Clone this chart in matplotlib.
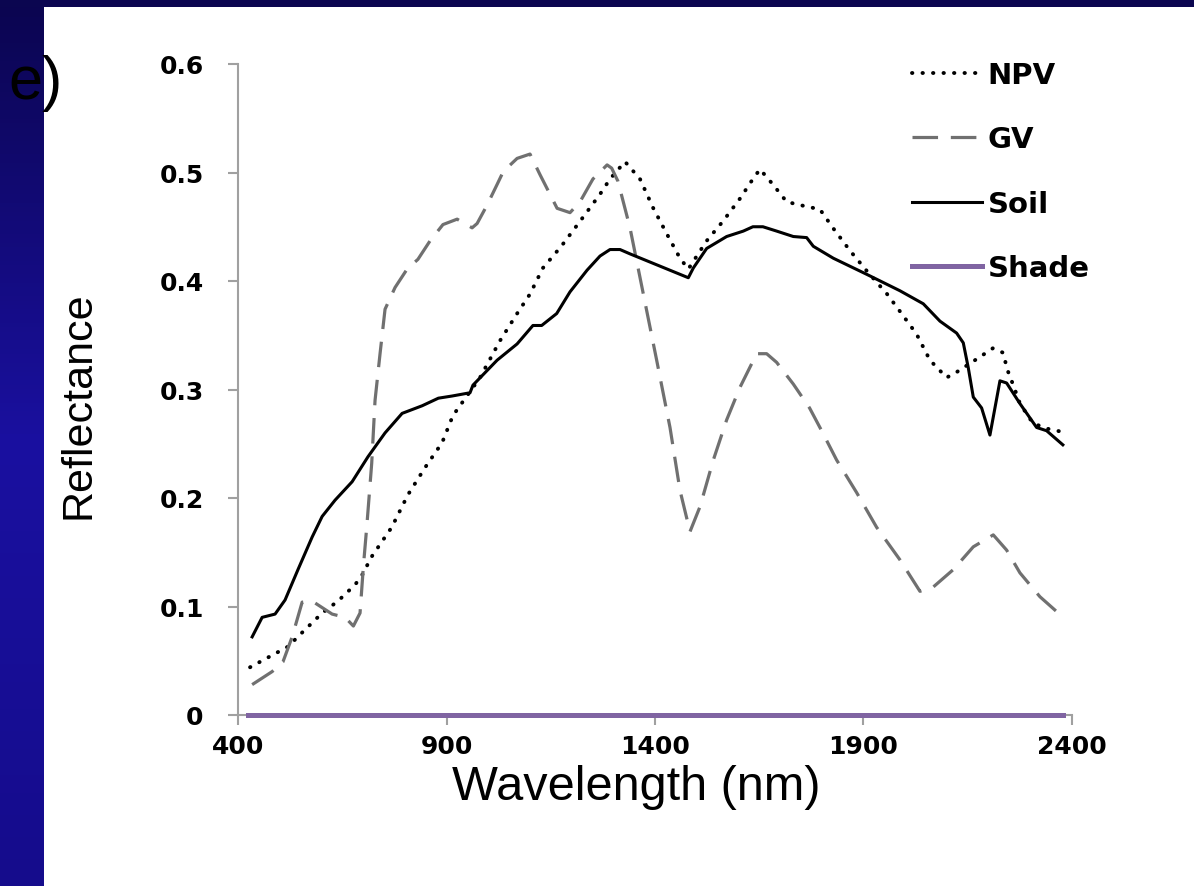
import matplotlib.pyplot as plt
import numpy as np
from matplotlib.colors import LinearSegmentedColormap

# spectra (wavelength in nm, reflectance)
npv_wl = [428, 471, 519, 553, 601, 639, 680, 697, 720, 768, 807, 848, 889, 915, 980,
          1028, 1069, 1100, 1131, 1175, 1220, 1268, 1292, 1328, 1364, 1396, 1429, 1460,
          1480, 1524, 1563, 1604, 1635, 1652, 1683, 1716, 1748, 1796, 1827, 1868, 1909,
          1957, 1988, 2028, 2060, 2100, 2124, 2172, 2211, 2235, 2247, 2259, 2276, 2307,
          2340, 2377]
npv_refl = [0.044, 0.053, 0.063, 0.076, 0.094, 0.105, 0.120, 0.129, 0.146, 0.173, 0.203,
            0.228, 0.251, 0.276, 0.311, 0.345, 0.370, 0.388, 0.412, 0.432, 0.455, 0.480,
            0.494, 0.510, 0.494, 0.467, 0.443, 0.421, 0.411, 0.437, 0.455, 0.476, 0.494,
            0.503, 0.489, 0.473, 0.470, 0.466, 0.449, 0.428, 0.409, 0.388, 0.372, 0.351,
            0.327, 0.311, 0.316, 0.328, 0.338, 0.334, 0.317, 0.305, 0.287, 0.269, 0.264,
            0.261]

gv_wl = [433, 481, 507, 529, 553, 577, 625, 656, 676, 692, 700, 708, 720, 728, 740, 752,
         776, 805, 831, 860, 891, 925, 961, 973, 997, 1021, 1036, 1069, 1100, 1124, 1165,
         1196, 1220, 1251, 1285, 1296, 1311, 1340, 1372, 1404, 1436, 1460, 1484, 1508,
         1540, 1572, 1604, 1644, 1668, 1692, 1732, 1771, 1800, 1836, 1884, 1932, 1988,
         2036, 2068, 2116, 2164, 2212, 2244, 2276, 2324, 2368]
gv_refl = [0.028, 0.040, 0.049, 0.072, 0.104, 0.105, 0.093, 0.090, 0.082, 0.094, 0.137,
           0.173, 0.232, 0.290, 0.333, 0.374, 0.394, 0.411, 0.420, 0.437, 0.452, 0.457,
           0.449, 0.453, 0.470, 0.489, 0.501, 0.513, 0.517, 0.498, 0.467, 0.463, 0.473,
           0.494, 0.507, 0.504, 0.492, 0.449, 0.388, 0.327, 0.265, 0.207, 0.169, 0.192,
           0.235, 0.272, 0.302, 0.333, 0.333, 0.325, 0.305, 0.283, 0.262, 0.235, 0.205,
           0.173, 0.143, 0.114, 0.118, 0.134, 0.155, 0.166, 0.152, 0.131, 0.109, 0.094]

soil_wl = [433, 457, 488, 512, 543, 577, 601, 632, 673, 711, 752, 793, 841, 880, 913,
           956, 963, 1021, 1069, 1107, 1128, 1164, 1196, 1237, 1268, 1292, 1316, 1340,
           1480, 1492, 1524, 1572, 1612, 1635, 1659, 1692, 1732, 1764, 1780, 1828, 1909,
           1988, 2044, 2084, 2124, 2140, 2152, 2164, 2184, 2204, 2228, 2244, 2276, 2316,
           2340, 2379]
soil_refl = [0.072, 0.090, 0.093, 0.106, 0.134, 0.164, 0.183, 0.198, 0.215, 0.238, 0.260,
             0.278, 0.285, 0.292, 0.294, 0.297, 0.304, 0.327, 0.342, 0.359, 0.359, 0.370,
             0.390, 0.410, 0.423, 0.429, 0.429, 0.425, 0.403, 0.412, 0.430, 0.441, 0.446,
             0.450, 0.450, 0.446, 0.441, 0.440, 0.432, 0.421, 0.406, 0.391, 0.379, 0.363,
             0.352, 0.343, 0.320, 0.293, 0.283, 0.258, 0.308, 0.306, 0.287, 0.265, 0.262,
             0.249]

shade_wl = [423, 2380]
shade_refl = [0.0, 0.0]

x_ticks = [400, 900, 1400, 1900, 2400]
y_ticks = [0, 0.1, 0.2, 0.3, 0.4, 0.5, 0.6]
y_labels = ['0', '0.1', '0.2', '0.3', '0.4', '0.5', '0.6']

W, H = 1194, 887
fig = plt.figure(figsize=(W / 100, H / 100), dpi=100)
fig.patch.set_facecolor('white')

# slide background: blue strip on the left and on top
blue = LinearSegmentedColormap.from_list('slide', ['#0b0550', '#1a10a0', '#150c8c'])
bg_left = fig.add_axes([0, 0, 44 / W, 1])
bg_left.imshow(np.linspace(0, 1, 200).reshape(-1, 1), aspect='auto', cmap=blue,
               extent=[0, 1, 0, 1], origin='upper')
bg_left.set_axis_off()
bg_top = fig.add_axes([0, 1 - 8 / H, 1, 8 / H])
bg_top.set_facecolor('#0b0650')
bg_top.set_xticks([])
bg_top.set_yticks([])
for s in bg_top.spines.values():
    s.set_visible(False)

ax = fig.add_axes([238.4 / W, 1 - 716 / H, 833.2 / W, 651 / H])

ax.plot(npv_wl, npv_refl, color='black', lw=2.8, linestyle=(0, (0.1, 2.6)),
        dash_capstyle='round', label='NPV')
ax.plot(gv_wl, gv_refl, color='#707070', lw=2.3, linestyle=(0, (8, 4)), label='GV')
ax.plot(soil_wl, soil_refl, color='black', lw=2.2, label='Soil')
ax.plot(shade_wl, shade_refl, color='#8064a2', lw=3.6, label='Shade', clip_on=False,
        zorder=5)

ax.set_xlim(400, 2400)
ax.set_ylim(0, 0.6)
ax.set_xticks(x_ticks)
ax.set_xticklabels([str(v) for v in x_ticks])
ax.set_yticks(y_ticks)
ax.set_yticklabels(y_labels)

for s in ['top', 'right']:
    ax.spines[s].set_visible(False)
for s in ['left', 'bottom']:
    ax.spines[s].set_color('#a0a0a0')
    ax.spines[s].set_linewidth(1.5)

ax.tick_params(axis='both', direction='out', length=7, width=1.5, color='#a0a0a0',
               labelsize=18)
ax.tick_params(axis='y', pad=18)
ax.tick_params(axis='x', pad=7)
for lab in ax.get_xticklabels() + ax.get_yticklabels():
    lab.set_fontweight('heavy')
    lab.set_family('DejaVu Sans')

ax.set_xlabel('Wavelength (nm)', fontsize=35, family='Liberation Sans')
ax.xaxis.set_label_coords(0.477, -0.075)
ax.set_ylabel('Reflectance', fontsize=31, family='Liberation Sans')
ax.yaxis.set_label_coords(-0.168, 0.478)

leg = ax.legend(loc='upper left', bbox_to_anchor=(912 / W, 1 - 62 / H),
                bbox_transform=fig.transFigure, frameon=False,
                prop={'family': 'DejaVu Sans', 'weight': 'bold', 'size': 21},
                handlelength=2.4, handletextpad=0.2, labelspacing=1.25,
                borderpad=0, borderaxespad=0)

fig.text(8 / W, 1 - 84 / H, 'e)', fontsize=44, family='Liberation Sans',
         va='center', ha='left', color='black', zorder=10)

fig.savefig('out.png', dpi=100)
